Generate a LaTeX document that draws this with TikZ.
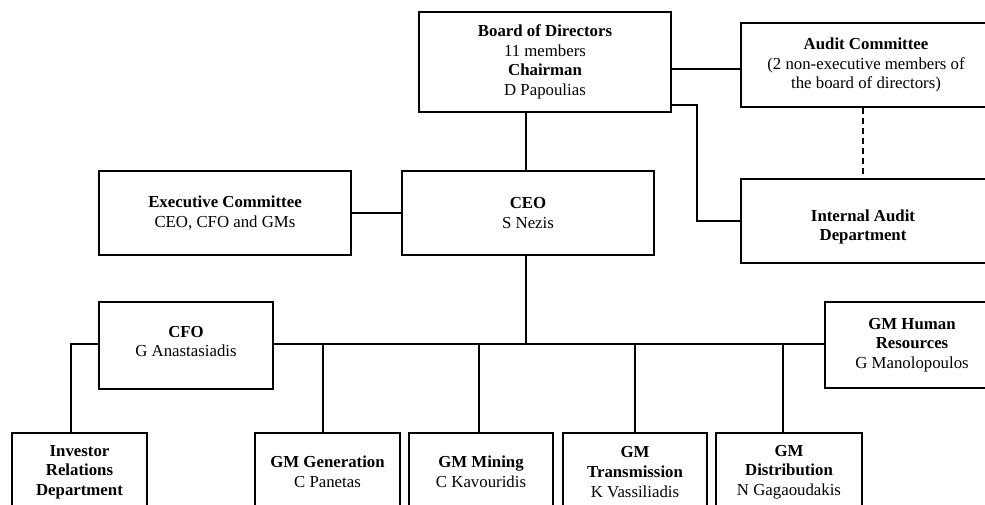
\documentclass[tikz,border=0pt]{standalone}
\usepackage{fontspec}
\setmainfont{Liberation Serif}
\begin{document}
\begin{tikzpicture}[x=1pt,y=-1pt,line width=1.6pt,
  txt/.style={inner sep=0pt, align=center,
    font=\fontsize{16.8}{19.6}\selectfont},
  box/.style={txt, draw, rectangle},
  dashline/.style={dash pattern=on 6pt off 4pt}]
\useasboundingbox (0,0) rectangle (985,505);
\clip (0,0) rectangle (985,505);
% top level
\node[box, minimum width=252pt, minimum height=100pt] (board) at (545,62)
  {\textbf{Board of Directors}\\11 members\\\textbf{Chairman}\\D Papoulias};
\node[box, minimum width=250pt, minimum height=84pt] (audit) at (866,65)
  {\textbf{Audit Committee}\\(2 non-executive members of\\the board of directors)};
\node[box, minimum width=250pt, minimum height=84pt] (ia) at (866,221) {};
\node[txt] (iatext) at (863,227) {\textbf{Internal Audit}\\\textbf{Department}};
\node[box, minimum width=252pt, minimum height=84pt] (exec) at (225,213)
  {\textbf{Executive Committee}\\CEO, CFO and GMs};
\node[box, minimum width=252pt, minimum height=84pt] (ceo) at (528,213)
  {\textbf{CEO}\\S Nezis};
\node[box, minimum width=174pt, minimum height=87pt] (cfo) at (186,345.5) {};
\node[txt] (cfotext) at (186,341.5) {\textbf{CFO}\\G Anastasiadis};
\node[box, minimum width=174pt, minimum height=86pt] (hr) at (912,345)
  {\textbf{GM Human}\\\textbf{Resources}\\G Manolopoulos};
% bottom row
\node[box, minimum width=135pt, minimum height=78pt] (inv) at (79.5,472)
  {\textbf{Investor}\\\textbf{Relations}\\\textbf{Department}};
\node[box, minimum width=145pt, minimum height=78pt] (gen) at (327.5,472)
  {\textbf{GM Generation}\\C Panetas};
\node[box, minimum width=144pt, minimum height=78pt] (min) at (481,472)
  {\textbf{GM Mining}\\C Kavouridis};
\node[box, minimum width=144pt, minimum height=78pt] (tra) at (635,472)
  {\textbf{GM}\\\textbf{Transmission}\\K Vassiliadis};
\node[box, minimum width=146pt, minimum height=78pt] (dis) at (789,472)
  {\textbf{GM}\\\textbf{Distribution}\\N Gagaoudakis};
% connectors
\draw (board.south -| 526,0) -- (ceo.north -| 526,0);
\draw (board.east |- 0,69) -- (audit.west |- 0,69);
\draw (board.east |- 0,105) -- (697,105) |- (ia.west);
\draw[dashline] (audit.south -| 863,0) -- (ia.north -| 863,0);
\draw (exec) -- (ceo);
\draw (ceo.south -| 526,0) -- (526,344);
\draw (cfo.east |- 0,344) -- (hr.west |- 0,344);
\draw (cfo.west |- 0,344) -| (inv.north -| 71,0);
\foreach \n/\x in {gen/323, min/479, tra/635, dis/783}
  \draw (\n.north -| \x,0) -- (\x,344);
\end{tikzpicture}
\end{document}
